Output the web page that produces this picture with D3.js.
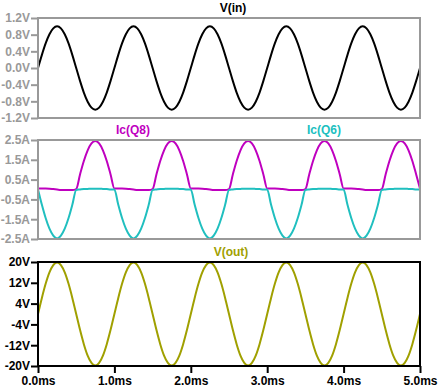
<!DOCTYPE html>
<html>
<head>
<meta charset="utf-8">
<script src="https://cdn.jsdelivr.net/npm/d3@7"></script>
<style>
    body { margin: 0; background: #fff; }
    text { font-family: "Liberation Sans", Arial, sans-serif; font-weight: bold; font-size: 12px; }
</style>
</head>
<body>
<div id="chart"></div>
<script>
// time axis, ms (one sample every 0.05 ms)
const time = [
    0, 0.05, 0.1, 0.15, 0.2, 0.25, 0.3, 0.35, 0.4, 0.45,
    0.5, 0.55, 0.6, 0.65, 0.7, 0.75, 0.8, 0.85, 0.9, 0.95,
    1, 1.05, 1.1, 1.15, 1.2, 1.25, 1.3, 1.35, 1.4, 1.45,
    1.5, 1.55, 1.6, 1.65, 1.7, 1.75, 1.8, 1.85, 1.9, 1.95,
    2, 2.05, 2.1, 2.15, 2.2, 2.25, 2.3, 2.35, 2.4, 2.45,
    2.5, 2.55, 2.6, 2.65, 2.7, 2.75, 2.8, 2.85, 2.9, 2.95,
    3, 3.05, 3.1, 3.15, 3.2, 3.25, 3.3, 3.35, 3.4, 3.45,
    3.5, 3.55, 3.6, 3.65, 3.7, 3.75, 3.8, 3.85, 3.9, 3.95,
    4, 4.05, 4.1, 4.15, 4.2, 4.25, 4.3, 4.35, 4.4, 4.45,
    4.5, 4.55, 4.6, 4.65, 4.7, 4.75, 4.8, 4.85, 4.9, 4.95,
    5
];

// V(in), volts
const vIn = [
    0, 0.31, 0.59, 0.81, 0.95, 1.0, 0.95, 0.81, 0.59, 0.31, 0, -0.31, -0.59, -0.81, -0.95, -1.0, -0.95, -0.81, -0.59, -0.31,
    0, 0.31, 0.59, 0.81, 0.95, 1.0, 0.95, 0.81, 0.59, 0.31, 0, -0.31, -0.59, -0.81, -0.95, -1.0, -0.95, -0.81, -0.59, -0.31,
    0, 0.31, 0.59, 0.81, 0.95, 1.0, 0.95, 0.81, 0.59, 0.31, 0, -0.31, -0.59, -0.81, -0.95, -1.0, -0.95, -0.81, -0.59, -0.31,
    0, 0.31, 0.59, 0.81, 0.95, 1.0, 0.95, 0.81, 0.59, 0.31, 0, -0.31, -0.59, -0.81, -0.95, -1.0, -0.95, -0.81, -0.59, -0.31,
    0, 0.31, 0.59, 0.81, 0.95, 1.0, 0.95, 0.81, 0.59, 0.31, 0, -0.31, -0.59, -0.81, -0.95, -1.0, -0.95, -0.81, -0.59, -0.31,
    0
];

// Ic(Q8), amps
const icQ8 = [
    0.05, 0.05, 0.05, 0.04, 0.02, 0, -0.02, -0.03, -0.03, -0.03, 0.02, 0.76, 1.44, 1.98, 2.33, 2.45, 2.33, 1.98, 1.44, 0.76,
    0.05, 0.05, 0.05, 0.04, 0.02, 0, -0.02, -0.03, -0.03, -0.03, 0.02, 0.76, 1.44, 1.98, 2.33, 2.45, 2.33, 1.98, 1.44, 0.76,
    0.05, 0.05, 0.05, 0.04, 0.02, 0, -0.02, -0.03, -0.03, -0.03, 0.02, 0.76, 1.44, 1.98, 2.33, 2.45, 2.33, 1.98, 1.44, 0.76,
    0.05, 0.05, 0.05, 0.04, 0.02, 0, -0.02, -0.03, -0.03, -0.03, 0.02, 0.76, 1.44, 1.98, 2.33, 2.45, 2.33, 1.98, 1.44, 0.76,
    0.05, 0.05, 0.05, 0.04, 0.02, 0, -0.02, -0.03, -0.03, -0.03, 0.02, 0.76, 1.44, 1.98, 2.33, 2.45, 2.33, 1.98, 1.44, 0.76,
    0.05
];

// Ic(Q6), amps
const icQ6 = [
    0, -0.76, -1.44, -1.98, -2.33, -2.47, -2.33, -1.98, -1.44, -0.76, -0.02, 0, 0.02, 0.03, 0.04, 0.04, 0.04, 0.03, 0.02, 0,
    0, -0.76, -1.44, -1.98, -2.33, -2.47, -2.33, -1.98, -1.44, -0.76, -0.02, 0, 0.02, 0.03, 0.04, 0.04, 0.04, 0.03, 0.02, 0,
    0, -0.76, -1.44, -1.98, -2.33, -2.47, -2.33, -1.98, -1.44, -0.76, -0.02, 0, 0.02, 0.03, 0.04, 0.04, 0.04, 0.03, 0.02, 0,
    0, -0.76, -1.44, -1.98, -2.33, -2.47, -2.33, -1.98, -1.44, -0.76, -0.02, 0, 0.02, 0.03, 0.04, 0.04, 0.04, 0.03, 0.02, 0,
    0, -0.76, -1.44, -1.98, -2.33, -2.47, -2.33, -1.98, -1.44, -0.76, -0.02, 0, 0.02, 0.03, 0.04, 0.04, 0.04, 0.03, 0.02, 0,
    0
];

// V(out), volts
const vOut = [
    0, 6.1, 11.6, 16.0, 18.8, 19.8, 18.8, 16.0, 11.6, 6.1, 0, -6.1, -11.6, -16.0, -18.8, -19.8, -18.8, -16.0, -11.6, -6.1,
    0, 6.1, 11.6, 16.0, 18.8, 19.8, 18.8, 16.0, 11.6, 6.1, 0, -6.1, -11.6, -16.0, -18.8, -19.8, -18.8, -16.0, -11.6, -6.1,
    0, 6.1, 11.6, 16.0, 18.8, 19.8, 18.8, 16.0, 11.6, 6.1, 0, -6.1, -11.6, -16.0, -18.8, -19.8, -18.8, -16.0, -11.6, -6.1,
    0, 6.1, 11.6, 16.0, 18.8, 19.8, 18.8, 16.0, 11.6, 6.1, 0, -6.1, -11.6, -16.0, -18.8, -19.8, -18.8, -16.0, -11.6, -6.1,
    0, 6.1, 11.6, 16.0, 18.8, 19.8, 18.8, 16.0, 11.6, 6.1, 0, -6.1, -11.6, -16.0, -18.8, -19.8, -18.8, -16.0, -11.6, -6.1,
    0
];

// tick values and labels
const xTicks = [0, 1, 2, 3, 4, 5];
const xTickLabels = ["0.0ms", "1.0ms", "2.0ms", "3.0ms", "4.0ms", "5.0ms"];
const vInTicks = [1.2, 0.8, 0.4, 0, -0.4, -0.8, -1.2];
const vInTickLabels = ["1.2V", "0.8V", "0.4V", "0.0V", "-0.4V", "-0.8V", "-1.2V"];
const icTicks = [2.5, 1.5, 0.5, -0.5, -1.5, -2.5];
const icTickLabels = ["2.5A", "1.5A", "0.5A", "-0.5A", "-1.5A", "-2.5A"];
const vOutTicks = [20, 12, 4, -4, -12, -20];
const vOutTickLabels = ["20V", "12V", "4V", "-4V", "-12V", "-20V"];

const width = 438;
const height = 389;
const left = 38;
const right = 420;

const svg = d3.select("#chart")
    .append("svg")
    .attr("width", width)
    .attr("height", height);

const x = d3.scaleLinear()
    .domain([0, 5])
    .range([left, right]);

let clipId = 0;

// draws one plot pane (box, y axis, traces, trace titles)
function createPane(opts) {
    const y = d3.scaleLinear()
        .domain([opts.ticks[opts.ticks.length - 1], opts.ticks[0]])
        .range([opts.bottom, opts.top]);

    const g = svg.append("g");

    // y axis with tick labels
    const axis = d3.axisLeft(y)
        .tickValues(opts.ticks)
        .tickFormat((d, i) => opts.tickLabels[i])
        .tickSize(7)
        .tickPadding(1);
    const ax = g.append("g")
        .attr("transform", `translate(${left},0)`)
        .call(axis);
    ax.select(".domain").remove();
    ax.selectAll("line").attr("stroke", opts.frame).attr("stroke-width", 2);
    ax.selectAll("text")
        .attr("fill", opts.frame)
        .style("font-size", "12px")
        .style("font-family", '"Liberation Sans", Arial, sans-serif')
        .style("font-weight", "bold");

    // clip traces to the box
    clipId++;
    svg.append("clipPath")
        .attr("id", "clip" + clipId)
        .append("rect")
        .attr("x", left)
        .attr("y", opts.top)
        .attr("width", right - left)
        .attr("height", opts.bottom - opts.top);

    const line = d3.line()
        .x((d, i) => x(time[i]))
        .y(d => y(d))
        .curve(d3.curveMonotoneX);

    opts.series.forEach(s => {
        g.append("path")
            .datum(s.values)
            .attr("clip-path", `url(#clip${clipId})`)
            .attr("fill", "none")
            .attr("stroke", s.color)
            .attr("stroke-width", 2)
            .attr("d", line);

        g.append("text")
            .attr("x", s.labelX)
            .attr("y", opts.top - 6)
            .attr("text-anchor", "middle")
            .attr("fill", s.color)
            .text(s.name);
    });

    // frame
    g.append("rect")
        .attr("x", left)
        .attr("y", opts.top)
        .attr("width", right - left)
        .attr("height", opts.bottom - opts.top)
        .attr("fill", "none")
        .attr("stroke", opts.frame)
        .attr("stroke-width", 2);

    return g;
}

createPane({
    top: 18, bottom: 118,
    ticks: vInTicks, tickLabels: vInTickLabels,
    frame: "#999999",
    series: [{ name: "V(in)", values: vIn, color: "#000000", labelX: 233 }]
});

createPane({
    top: 140, bottom: 239,
    ticks: icTicks, tickLabels: icTickLabels,
    frame: "#999999",
    series: [
        { name: "Ic(Q8)", values: icQ8, color: "#bf00bf", labelX: 133 },
        { name: "Ic(Q6)", values: icQ6, color: "#20bfbf", labelX: 324 }
    ]
});

const bottomPane = createPane({
    top: 262, bottom: 366,
    ticks: vOutTicks, tickLabels: vOutTickLabels,
    frame: "#000000",
    series: [{ name: "V(out)", values: vOut, color: "#a0a000", labelX: 231 }]
});

// time axis under the bottom pane
const xAxis = d3.axisBottom(x)
    .tickValues(xTicks)
    .tickFormat((d, i) => xTickLabels[i])
    .tickSize(7)
    .tickPadding(3);
const xa = bottomPane.append("g")
    .attr("transform", "translate(0,366)")
    .call(xAxis);
xa.select(".domain").remove();
xa.selectAll("line").attr("stroke", "#000").attr("stroke-width", 2);
xa.selectAll("text")
    .attr("fill", "#000")
    .style("font-size", "12px")
    .style("font-family", '"Liberation Sans", Arial, sans-serif')
    .style("font-weight", "bold");
</script>
</body>
</html>
